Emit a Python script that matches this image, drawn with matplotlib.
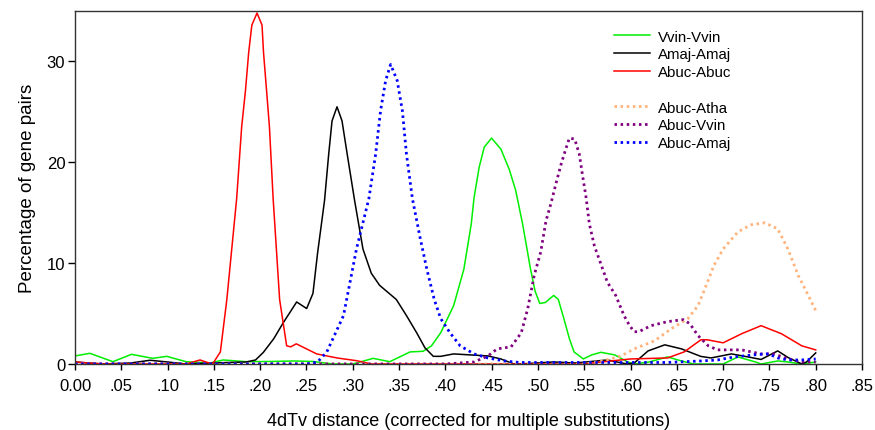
import matplotlib
matplotlib.use("Agg")
import matplotlib.pyplot as plt
from matplotlib.lines import Line2D

plt.rcParams['font.family'] = ['Liberation Sans', 'DejaVu Sans']

# ---------------- data ----------------
vv_x = [0.0, 0.016, 0.041, 0.061, 0.084, 0.099, 0.12, 0.146, 0.16, 0.185, 0.21, 0.236, 0.257, 0.279,
        0.30, 0.322, 0.34, 0.362, 0.376, 0.385, 0.395, 0.409, 0.420, 0.428, 0.431, 0.4365, 0.442,
        0.4499, 0.46, 0.469, 0.476, 0.4834, 0.488, 0.492, 0.497, 0.502, 0.508, 0.517, 0.522, 0.528,
        0.534, 0.539, 0.549, 0.558, 0.568, 0.583, 0.597, 0.604, 0.62, 0.64, 0.655, 0.668, 0.70, 0.716,
        0.735, 0.741, 0.759, 0.77, 0.785, 0.80]
vv_y = [0.8, 1.06, 0.23, 0.96, 0.56, 0.76, 0.23, 0.1, 0.4, 0.23, 0.25, 0.3, 0.25, 0.0,
        0.0, 0.56, 0.23, 1.2, 1.26, 1.8, 3.1, 5.8, 9.4, 13.9, 16.5, 19.5, 21.5,
        22.4, 21.3, 19.3, 17.2, 13.9, 11.5, 9.4, 7.2, 6.0, 6.1, 6.8, 6.4, 4.5,
        2.5, 1.2, 0.5, 0.9, 1.16, 0.9, 0.2, 0.0, 0.2, 0.7, 0.3, 0.0, 0.0, 0.7,
        0.2, 0.0, 0.3, 0.2, 0.0, 0.2]

am_x = [0.0, 0.03, 0.06, 0.081, 0.10, 0.12, 0.147, 0.185, 0.195, 0.2035, 0.2146, 0.225, 0.2394, 0.2502,
        0.257, 0.262, 0.2695, 0.274, 0.2776, 0.283, 0.2884, 0.294, 0.302, 0.311, 0.320, 0.329, 0.347,
        0.358, 0.369, 0.378, 0.387, 0.395, 0.409, 0.427, 0.446, 0.46, 0.474, 0.49, 0.517, 0.54, 0.575,
        0.596, 0.604, 0.619, 0.637, 0.655, 0.676, 0.687, 0.709, 0.727, 0.741, 0.759, 0.77, 0.785, 0.79,
        0.80]
am_y = [0.2, 0.0, 0.1, 0.37, 0.2, 0.0, 0.1, 0.2, 0.4, 1.16, 2.5, 4.1, 6.15, 5.5,
        7.0, 11.0, 16.2, 20.8, 24.1, 25.5, 24.1, 20.8, 16.2, 11.4, 9.0, 7.8, 6.4,
        4.8, 3.1, 1.6, 0.76, 0.76, 1.0, 0.9, 0.8, 0.5, 0.0, 0.05, 0.2, 0.1, 0.4,
        0.0, 0.1, 1.3, 1.9, 1.5, 0.75, 0.6, 1.0, 0.7, 0.45, 1.3, 0.65, 0.0, 0.2,
        1.1]

ab_x = [0.0, 0.03, 0.12, 0.135, 0.148, 0.15, 0.157, 0.164, 0.1746, 0.180, 0.184, 0.1876, 0.191, 0.1966,
        0.202, 0.2036, 0.207, 0.21, 0.214, 0.221, 0.2286, 0.233, 0.239, 0.25, 0.261, 0.283, 0.304,
        0.32, 0.55, 0.568, 0.60, 0.64, 0.658, 0.676, 0.683, 0.70, 0.72, 0.741, 0.763, 0.785, 0.80]
ab_y = [0.2, 0.0, 0.0, 0.4, 0.0, 0.2, 1.2, 6.4, 16.4, 23.5, 27.0, 30.9, 33.6, 34.8,
        33.6, 30.9, 27.0, 23.5, 16.4, 6.4, 1.8, 1.7, 2.0, 1.5, 1.0, 0.6, 0.33,
        0.0, 0.0, 0.2, 0.5, 0.6, 1.2, 2.4, 2.4, 2.1, 3.0, 3.8, 3.0, 1.8, 1.4]

at_x = [0.0, 0.55, 0.57, 0.59, 0.604, 0.626, 0.644, 0.662, 0.673, 0.68, 0.69, 0.70, 0.716, 0.73,
        0.745, 0.759, 0.77, 0.781, 0.792, 0.80]
at_y = [0.0, 0.0, 0.3, 0.8, 1.5, 2.3, 3.5, 4.5, 5.8, 7.4, 9.75, 11.4, 13.1, 13.8,
        14.0, 13.4, 11.4, 8.8, 6.8, 5.3]

av_x = [0.0, 0.40, 0.431, 0.446, 0.456, 0.471, 0.482, 0.489, 0.496, 0.503, 0.5087, 0.514, 0.5195,
        0.525, 0.530, 0.534, 0.5397, 0.5447, 0.548, 0.552, 0.5555, 0.561, 0.57, 0.575, 0.584, 0.593,
        0.599, 0.604, 0.609, 0.622, 0.64, 0.657, 0.664, 0.673, 0.684, 0.694, 0.72, 0.741, 0.755,
        0.77, 0.785, 0.80]
av_y = [0.0, 0.0, 0.2, 0.8, 1.5, 1.7, 3.1, 5.5, 8.8, 11.1, 14.2, 15.9, 17.9,
        19.8, 21.3, 22.4, 22.3, 20.8, 18.8, 16.5, 13.9, 11.7, 9.4, 8.1, 6.8, 4.8,
        3.8, 3.2, 3.2, 3.8, 4.2, 4.4, 4.0, 2.8, 1.8, 1.4, 1.4, 1.0, 1.0,
        0.5, 0.2, 0.2]

aa_x = [0.0, 0.25, 0.262, 0.272, 0.29, 0.304, 0.3174, 0.3247, 0.330, 0.3355, 0.3409, 0.348, 0.3536,
        0.358, 0.3644, 0.373, 0.38, 0.388, 0.395, 0.405, 0.416, 0.431, 0.446, 0.464, 0.48, 0.64,
        0.676, 0.694, 0.712, 0.738, 0.749, 0.759, 0.77, 0.785, 0.80]
aa_y = [0.0, 0.0, 0.2, 1.2, 4.8, 11.4, 16.4, 20.8, 25.1, 28.1, 29.7, 28.1, 25.1,
        20.8, 16.4, 12.4, 9.4, 6.4, 4.5, 3.1, 1.8, 1.0, 0.6, 0.3, 0.15, 0.15,
        0.3, 0.4, 0.7, 0.95, 1.0, 0.6, 0.4, 0.4, 0.5]

x_ticks = [0.00, 0.05, 0.10, 0.15, 0.20, 0.25, 0.30, 0.35, 0.40, 0.45, 0.50, 0.55, 0.60, 0.65,
           0.70, 0.75, 0.80, 0.85]
x_tick_labels = ['0.00', '.05', '.10', '.15', '.20', '.25', '.30', '.35', '.40', '.45', '.50', '.55',
                 '.60', '.65', '.70', '.75', '.80', '.85']
y_ticks = [0, 10, 20, 30]

# ---------------- figure ----------------
fig = plt.figure(figsize=(8.75, 4.31), dpi=100)
ax = fig.add_axes([75/875, 1-365/431, 787/875, 353/431])

solid_lw = 1.1
dot_lw = 2.0
dot_style = (0, (0.9, 1.3))

h_vv, = ax.plot(vv_x, vv_y, color='#00ee00', lw=solid_lw, label='Vvin-Vvin')
h_am, = ax.plot(am_x, am_y, color='black', lw=solid_lw, label='Amaj-Amaj')
h_ab, = ax.plot(ab_x, ab_y, color='#ff0000', lw=solid_lw, label='Abuc-Abuc')
h_at, = ax.plot(at_x, at_y, color='#ffb27a', lw=dot_lw, ls=dot_style, label='Abuc-Atha')
h_av, = ax.plot(av_x, av_y, color='#800080', lw=dot_lw, ls=dot_style, label='Abuc-Vvin')
h_aa, = ax.plot(aa_x, aa_y, color='#0000ff', lw=dot_lw, ls=dot_style, label='Abuc-Amaj')

blank = Line2D([], [], color='none', label=' ')
ax.legend(handles=[h_vv, h_am, h_ab, blank, h_at, h_av, h_aa],
          loc='upper left', bbox_to_anchor=(0.685, 0.947), frameon=False,
          fontsize=10.8, handlelength=2.4, handletextpad=0.5, labelspacing=0.25,
          borderpad=0, borderaxespad=0)

ax.set_xlim(0, 0.85)
ax.set_ylim(0, 35)
ax.set_xticks(x_ticks)
ax.set_xticklabels(x_tick_labels)
ax.set_yticks(y_ticks)
ax.tick_params(axis='x', direction='out', length=4, width=1, labelsize=12, pad=6)
ax.tick_params(axis='y', direction='out', length=5, width=1, labelsize=12, pad=2)
for s in ax.spines.values():
    s.set_linewidth(1.0)
    s.set_color('#333333')

ax.set_xlabel('4dTv distance (corrected for multiple substitutions)', fontsize=13, labelpad=14)
ax.set_ylabel('Percentage of gene pairs', fontsize=13.5, labelpad=8)

fig.savefig('out.png', dpi=100)
